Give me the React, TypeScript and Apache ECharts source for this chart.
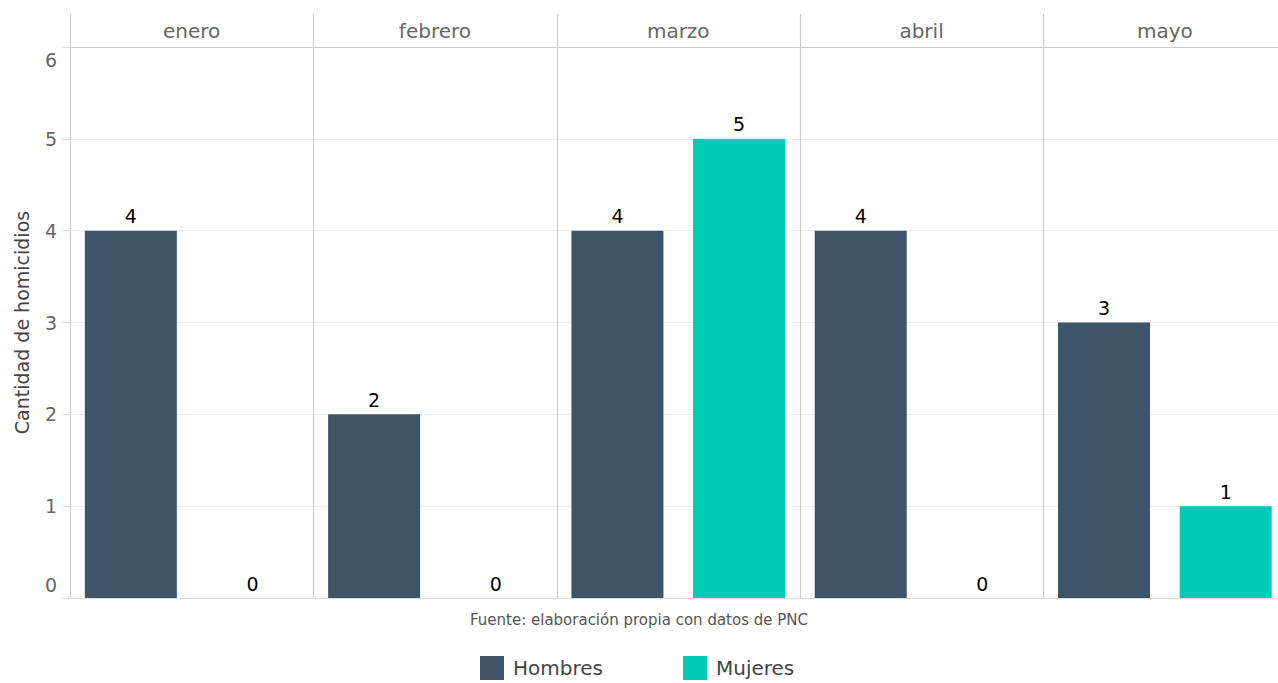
import React, { useEffect, useRef } from "react";
import * as echarts from "echarts";

const months = ["enero", "febrero", "marzo", "abril", "mayo"];
const sexes = ["Hombres", "Mujeres"];
const hombres = [4, 2, 4, 4, 3];
const mujeres = [0, 0, 5, 0, 1];
const yTicks = [0, 1, 2, 3, 4, 5, 6];

const COLORS = ["#3e5468", "#00cbb6"];
const FONT = "DejaVu Sans";
const PANEL_LEFT = 70;
const PANEL_W = 243.3;
const TOP = 47;
const BOTTOM_Y = 598;
const VIEW_W = 1278;
const CHART_W = 1300;

export default function App() {
  const ref = useRef<HTMLDivElement>(null);
  useEffect(() => {
    if (!ref.current) return;
    const chart = echarts.init(ref.current, undefined, { renderer: "svg" });
    const grids: any[] = [];
    const xAxes: any[] = [];
    const yAxes: any[] = [];
    const series: any[] = [];
    months.forEach((m, i) => {
      grids.push({
        left: PANEL_LEFT + i * PANEL_W,
        top: TOP,
        width: PANEL_W,
        height: BOTTOM_Y - TOP,
      });
      xAxes.push({
        type: "category",
        gridIndex: i,
        data: sexes,
        axisLabel: { show: false },
        axisTick: { show: false },
        axisLine: { show: true, lineStyle: { color: "#dcdcdc", width: 1 } },
      });
      xAxes.push({
        type: "category",
        gridIndex: i,
        position: "top",
        data: [m],
        axisTick: { show: false },
        axisLine: { show: true, lineStyle: { color: "#cccccc", width: 1 } },
        axisLabel: { fontFamily: FONT, fontSize: 20, color: "#666666", margin: 6 },
      });
      yAxes.push({
        type: "value",
        gridIndex: i,
        min: 0,
        max: yTicks[yTicks.length - 1],
        interval: 1,
        axisLine: { show: false },
        axisTick: { show: i === 0, length: 8, lineStyle: { color: "#dedede" } },
        splitLine: { show: true, lineStyle: { color: "#ededed", width: 1 } },
        axisLabel: {
          show: i === 0,
          fontFamily: FONT,
          fontSize: 19,
          lineHeight: 26,
          color: "#666666",
          margin: 13,
          verticalAlignMinLabel: "bottom",
          verticalAlignMaxLabel: "top",
        },
        name: i === 0 ? "Cantidad de homicidios" : "",
        nameLocation: "middle",
        nameRotate: 90,
        nameGap: 39,
        nameTextStyle: { fontFamily: FONT, fontSize: 19, color: "#444444" },
      });
      const label = {
        show: true,
        position: "top",
        distance: 5,
        fontFamily: FONT,
        fontSize: 19,
        color: "#000000",
      };
      series.push({
        type: "bar",
        name: "Hombres",
        xAxisIndex: 2 * i,
        yAxisIndex: i,
        data: [hombres[i], null],
        barWidth: 92,
        barGap: "-100%",
        label,
      });
      series.push({
        type: "bar",
        name: "Mujeres",
        xAxisIndex: 2 * i,
        yAxisIndex: i,
        data: [null, mujeres[i]],
        barWidth: 92,
        barGap: "-100%",
        label,
      });
    });
    const separators = months.map((_, i) => ({
      type: "line",
      silent: true,
      shape: {
        x1: Math.round(PANEL_LEFT + i * PANEL_W) + 0.5,
        y1: 14,
        x2: Math.round(PANEL_LEFT + i * PANEL_W) + 0.5,
        y2: BOTTOM_Y,
      },
      style: { stroke: "#cccccc", lineWidth: 1.2 },
      z: 10,
    }));
    chart.setOption({
      animation: false,
      color: COLORS,
      textStyle: { fontFamily: FONT },
      title: {
        text: "Fuente: elaboración propia con datos de PNC",
        left: 470,
        top: 612,
        padding: 0,
        textStyle: { fontFamily: FONT, fontSize: 15, fontWeight: "normal", color: "#555555" },
      },
      legend: {
        data: sexes,
        left: 480,
        top: 656,
        padding: 0,
        itemWidth: 24,
        itemHeight: 24,
        itemGap: 80,
        icon: "rect",
        textStyle: {
          fontFamily: FONT,
          fontSize: 20,
          lineHeight: 20,
          color: "#444444",
          padding: [0, 0, 0, 4],
        },
      },
      grid: grids,
      xAxis: xAxes,
      yAxis: yAxes,
      series,
      graphic: separators,
    });
    return () => chart.dispose();
  }, []);
  return (
    <div
      style={{
        position: "fixed",
        left: 0,
        top: 0,
        width: VIEW_W,
        height: 683,
        overflow: "hidden",
        background: "#fff",
      }}
    >
      <div ref={ref} style={{ width: CHART_W, height: 683 }} />
    </div>
  );
}
